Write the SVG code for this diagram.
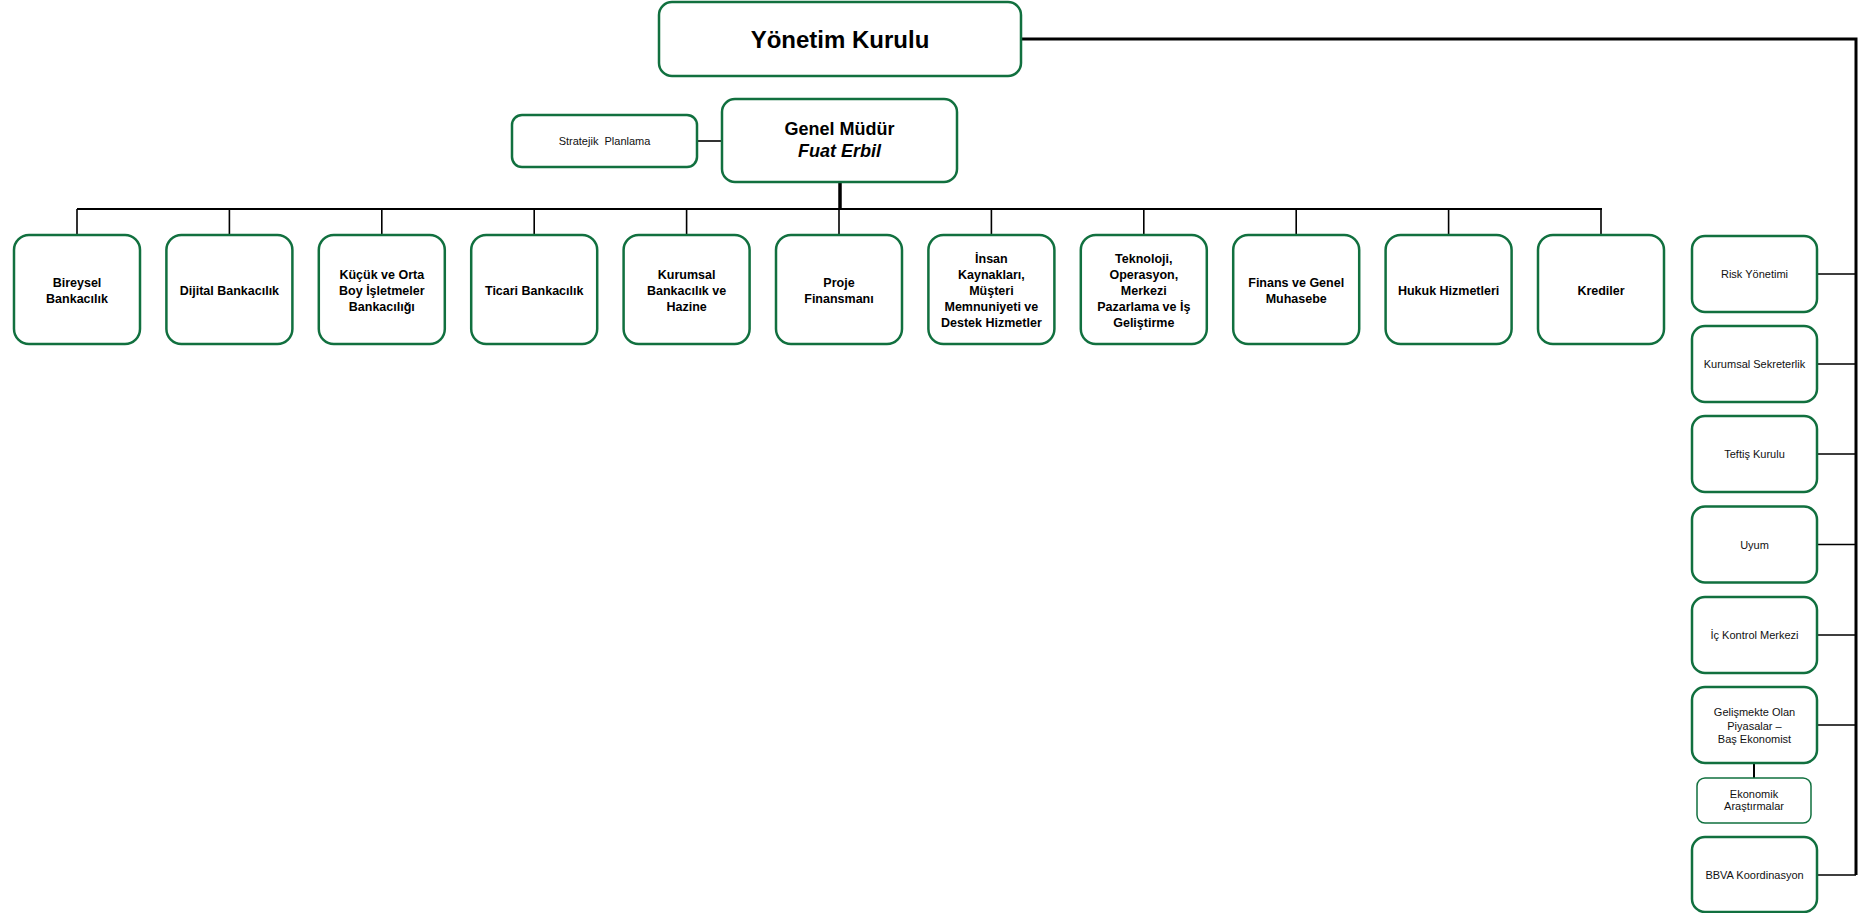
<svg xmlns="http://www.w3.org/2000/svg" width="1858" height="913" viewBox="0 0 1858 913">
<style>
.box{fill:#fff;stroke:#11703f;stroke-width:2.5}
.sm{fill:#fff;stroke:#11703f;stroke-width:1.5}
.t{font-family:"Liberation Sans",Arial,sans-serif;font-weight:bold;font-size:12.5px;fill:#000;text-anchor:middle}
.r{font-family:"Liberation Sans",Arial,sans-serif;font-size:11px;fill:#111;text-anchor:middle}
.big{font-family:"Liberation Sans",Arial,sans-serif;font-weight:bold;font-size:24px;fill:#000;text-anchor:middle}
.gm{font-family:"Liberation Sans",Arial,sans-serif;font-weight:bold;font-size:18px;fill:#000;text-anchor:middle}
.c{stroke:#000;fill:none;stroke-width:1.6}
.c3{stroke:#000;fill:none;stroke-width:3}
.c4{stroke:#000;fill:none;stroke-width:3.5}
.c2{stroke:#000;fill:none;stroke-width:2}
</style>
<rect width="1858" height="913" fill="#fff"/>
<g id="connectors">
<path class="c3" d="M1021 39 H1856 V875"/>
<path class="c" d="M697 141 H722"/>
<path class="c4" d="M840 182 V209"/>
<path class="c2" d="M77 209 H1602"/>
<path class="c" d="M77 209 V235 M229.4 209 V235 M381.8 209 V235 M534.2 209 V235 M686.6 209 V235 M839 209 V235 M991.4 209 V235 M1143.8 209 V235 M1296.2 209 V235 M1448.6 209 V235 M1601 209 V235"/>
<path class="c" d="M1817 274 H1856 M1817 364 H1856 M1817 454 H1856 M1817 544.5 H1856 M1817 635 H1856 M1817 725 H1856 M1817 875 H1856"/>
<path class="c2" d="M1754 763 V778"/>
</g>
<g id="yonetim"><rect class="box" x="659" y="2" width="362" height="74" rx="13"/><text class="big" x="840" y="48">Yönetim Kurulu</text></g>
<g id="genel-mudur"><rect class="box" x="722" y="99" width="235" height="83" rx="13"/><text class="gm" x="839.5" y="135">Genel Müdür</text><text class="gm" x="839.5" y="157" font-style="italic">Fuat Erbil</text></g>
<g id="stratejik"><rect class="box" x="512" y="115" width="185" height="52" rx="10"/><text class="r" x="604.5" y="145" xml:space="preserve">Stratejik  Planlama</text></g>
<g id="bireysel"><rect class="box" x="14" y="235" width="126" height="109" rx="15"/><text class="t" x="77" y="287">Bireysel</text><text class="t" x="77" y="303">Bankacılık</text></g>
<g id="dijital"><rect class="box" x="166.4" y="235" width="126" height="109" rx="15"/><text class="t" x="229.4" y="295">Dijital Bankacılık</text></g>
<g id="kobi"><rect class="box" x="318.8" y="235" width="126" height="109" rx="15"/><text class="t" x="381.8" y="279">Küçük ve Orta</text><text class="t" x="381.8" y="295">Boy İşletmeler</text><text class="t" x="381.8" y="311">Bankacılığı</text></g>
<g id="ticari"><rect class="box" x="471.2" y="235" width="126" height="109" rx="15"/><text class="t" x="534.2" y="295">Ticari Bankacılık</text></g>
<g id="kurumsal"><rect class="box" x="623.6" y="235" width="126" height="109" rx="15"/><text class="t" x="686.6" y="279">Kurumsal</text><text class="t" x="686.6" y="295">Bankacılık ve</text><text class="t" x="686.6" y="311">Hazine</text></g>
<g id="proje"><rect class="box" x="776" y="235" width="126" height="109" rx="15"/><text class="t" x="839" y="287">Proje</text><text class="t" x="839" y="303">Finansmanı</text></g>
<g id="insan"><rect class="box" x="928.4" y="235" width="126" height="109" rx="15"/><text class="t" x="991.4" y="263">İnsan</text><text class="t" x="991.4" y="279">Kaynakları,</text><text class="t" x="991.4" y="295">Müşteri</text><text class="t" x="991.4" y="311">Memnuniyeti ve</text><text class="t" x="991.4" y="327">Destek Hizmetler</text></g>
<g id="teknoloji"><rect class="box" x="1080.8" y="235" width="126" height="109" rx="15"/><text class="t" x="1143.8" y="263">Teknoloji,</text><text class="t" x="1143.8" y="279">Operasyon,</text><text class="t" x="1143.8" y="295">Merkezi</text><text class="t" x="1143.8" y="311">Pazarlama ve İş</text><text class="t" x="1143.8" y="327">Geliştirme</text></g>
<g id="finans"><rect class="box" x="1233.2" y="235" width="126" height="109" rx="15"/><text class="t" x="1296.2" y="287">Finans ve Genel</text><text class="t" x="1296.2" y="303">Muhasebe</text></g>
<g id="hukuk"><rect class="box" x="1385.6" y="235" width="126" height="109" rx="15"/><text class="t" x="1448.6" y="295">Hukuk Hizmetleri</text></g>
<g id="krediler"><rect class="box" x="1538" y="235" width="126" height="109" rx="15"/><text class="t" x="1601" y="295">Krediler</text></g>
<g id="risk"><rect class="box" x="1692" y="236" width="125" height="76" rx="13"/><text class="r" x="1754.5" y="278">Risk Yönetimi</text></g>
<g id="sekreterlik"><rect class="box" x="1692" y="326" width="125" height="76" rx="13"/><text class="r" x="1754.5" y="368">Kurumsal Sekreterlik</text></g>
<g id="teftis"><rect class="box" x="1692" y="416" width="125" height="76" rx="13"/><text class="r" x="1754.5" y="458">Teftiş Kurulu</text></g>
<g id="uyum"><rect class="box" x="1692" y="506.5" width="125" height="76" rx="13"/><text class="r" x="1754.5" y="548.5">Uyum</text></g>
<g id="ic-kontrol"><rect class="box" x="1692" y="597" width="125" height="76" rx="13"/><text class="r" x="1754.5" y="639">İç Kontrol Merkezi</text></g>
<g id="gelismekte"><rect class="box" x="1692" y="687" width="125" height="76" rx="13"/><text class="r" x="1754.5" y="716">Gelişmekte Olan</text><text class="r" x="1754.5" y="729.5">Piyasalar –</text><text class="r" x="1754.5" y="743">Baş Ekonomist</text></g>
<g id="ekonomik"><rect class="sm" x="1697" y="778" width="114" height="45" rx="8"/><text class="r" x="1754" y="798">Ekonomik</text><text class="r" x="1754" y="810">Araştırmalar</text></g>
<g id="bbva"><rect class="box" x="1692" y="837" width="125" height="75" rx="13"/><text class="r" x="1754.5" y="879">BBVA Koordinasyon</text></g>
</svg>
